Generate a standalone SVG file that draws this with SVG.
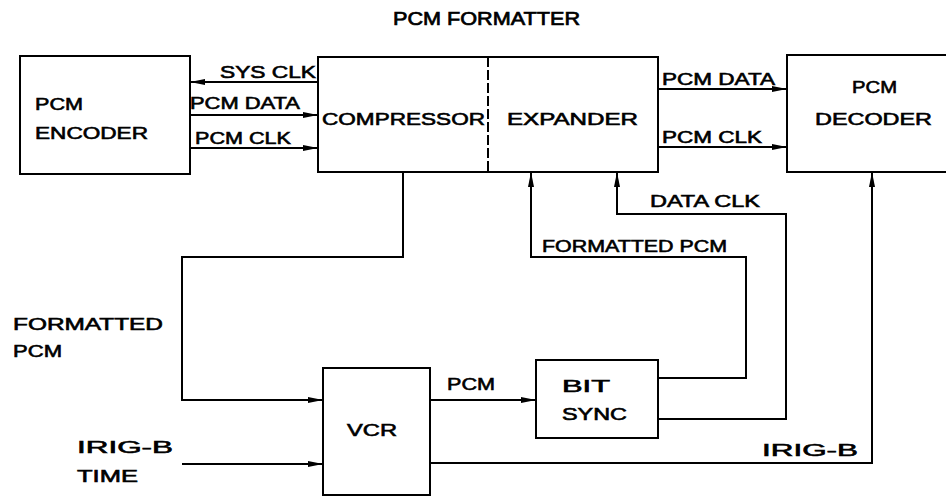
<svg xmlns="http://www.w3.org/2000/svg" width="946" height="496" viewBox="0 0 946 496">
<defs>
<style>
.box{fill:#fff;stroke:#000;stroke-width:2}
.ln{fill:none;stroke:#000;stroke-width:2}
.t{font-family:"Liberation Sans",Arial,sans-serif;font-size:17px;fill:#000;stroke:#000;stroke-width:0.6}
.tt{font-family:"Liberation Sans",Arial,sans-serif;font-size:18px;fill:#000;stroke:#000;stroke-width:0.7}
</style>
<marker id="ar" markerUnits="userSpaceOnUse" markerWidth="16" markerHeight="8" refX="15" refY="4" orient="auto">
<path d="M0,1 L15,4 L0,7 Z" fill="#000"/>
</marker>
</defs>
<rect width="946" height="496" fill="#fff"/>
<g id="title">
<text class="tt" x="393" y="25" textLength="187" lengthAdjust="spacingAndGlyphs">PCM FORMATTER</text>
</g>
<g id="encoder">
<rect class="box" x="20" y="56" width="170" height="118"/>
<text class="t" x="35" y="110" textLength="48" lengthAdjust="spacingAndGlyphs">PCM</text>
<text class="t" x="35" y="139" textLength="113" lengthAdjust="spacingAndGlyphs">ENCODER</text>
</g>
<g id="formatter">
<rect class="box" x="318" y="57" width="340" height="115"/>
<line class="ln" x1="488" y1="57" x2="488" y2="172" stroke-dasharray="10,3"/>
<text class="t" x="322" y="125" textLength="163" lengthAdjust="spacingAndGlyphs">COMPRESSOR</text>
<text class="t" x="507" y="125" textLength="131" lengthAdjust="spacingAndGlyphs">EXPANDER</text>
</g>
<g id="decoder">
<rect class="box" x="787" y="55" width="170" height="117"/>
<text class="t" x="852" y="93" textLength="45" lengthAdjust="spacingAndGlyphs">PCM</text>
<text class="t" x="815" y="125" textLength="117" lengthAdjust="spacingAndGlyphs">DECODER</text>
</g>
<g id="vcr">
<rect class="box" x="323" y="368" width="107" height="127"/>
<text class="t" x="347" y="436" textLength="50" lengthAdjust="spacingAndGlyphs">VCR</text>
</g>
<g id="bitsync">
<rect class="box" x="536" y="360" width="122" height="78"/>
<text class="t" x="562" y="392" textLength="48" lengthAdjust="spacingAndGlyphs">BIT</text>
<text class="t" x="562" y="420" textLength="65" lengthAdjust="spacingAndGlyphs">SYNC</text>
</g>
<g id="connectors">
<line class="ln" x1="318" y1="82" x2="190" y2="82" marker-end="url(#ar)"/>
<line class="ln" x1="190" y1="115" x2="318" y2="115" marker-end="url(#ar)"/>
<line class="ln" x1="190" y1="148" x2="318" y2="148" marker-end="url(#ar)"/>
<line class="ln" x1="658" y1="89" x2="787" y2="89" marker-end="url(#ar)"/>
<line class="ln" x1="658" y1="147" x2="787" y2="147" marker-end="url(#ar)"/>
<polyline class="ln" points="403,172 403,257 182,257 182,400 323,400" marker-end="url(#ar)"/>
<line class="ln" x1="182" y1="464" x2="323" y2="464" marker-end="url(#ar)"/>
<line class="ln" x1="430" y1="400" x2="536" y2="400" marker-end="url(#ar)"/>
<polyline class="ln" points="658,378 746,378 746,257 531,257 531,172" marker-end="url(#ar)"/>
<polyline class="ln" points="658,419 786,419 786,214 617,214 617,172" marker-end="url(#ar)"/>
<polyline class="ln" points="430,463 872,463 872,172" marker-end="url(#ar)"/>
</g>
<g id="labels">
<text class="t" x="220" y="78" textLength="96" lengthAdjust="spacingAndGlyphs">SYS CLK</text>
<text class="t" x="190" y="109" textLength="110" lengthAdjust="spacingAndGlyphs">PCM DATA</text>
<text class="t" x="195" y="144" textLength="96" lengthAdjust="spacingAndGlyphs">PCM CLK</text>
<text class="t" x="662" y="85" textLength="113" lengthAdjust="spacingAndGlyphs">PCM DATA</text>
<text class="t" x="662" y="143" textLength="100" lengthAdjust="spacingAndGlyphs">PCM CLK</text>
<text class="t" x="650" y="207" textLength="110" lengthAdjust="spacingAndGlyphs">DATA CLK</text>
<text class="t" x="542" y="252" textLength="185" lengthAdjust="spacingAndGlyphs">FORMATTED PCM</text>
<text class="t" x="13" y="330" textLength="150" lengthAdjust="spacingAndGlyphs">FORMATTED</text>
<text class="t" x="13" y="357" textLength="49" lengthAdjust="spacingAndGlyphs">PCM</text>
<text class="t" x="447" y="390" textLength="48" lengthAdjust="spacingAndGlyphs">PCM</text>
<text class="t" x="77" y="453" textLength="96" lengthAdjust="spacingAndGlyphs">IRIG-B</text>
<text class="t" x="77" y="482" textLength="61" lengthAdjust="spacingAndGlyphs">TIME</text>
<text class="t" x="762" y="456" textLength="96" lengthAdjust="spacingAndGlyphs">IRIG-B</text>
</g>
</svg>
